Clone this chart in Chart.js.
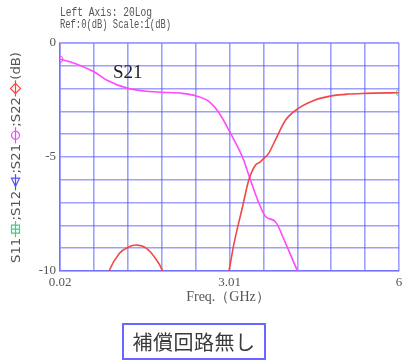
<!DOCTYPE html>
<html>
<head>
<meta charset="utf-8">
<script src="https://cdn.jsdelivr.net/npm/chart.js@4"></script>
<style>
    html, body { margin: 0; padding: 0; background: #fff; }
    #wrap { position: relative; width: 404px; height: 362px; }
    #caption {
        position: absolute; left: 122px; top: 323px; width: 140px; height: 33px;
        border: 2px solid #6868ff; font: 20px "Noto Sans CJK JP", sans-serif; color: #3a3a3a;
        text-align: center; line-height: 33px; letter-spacing: 0.5px;
    }
</style>
</head>
<body>
<div id="wrap">
    <canvas id="chart" width="404" height="362"></canvas>
    <div id="caption">補償回路無し</div>
</div>
<script>
(function () {
    "use strict";

    // S21 (magenta), dB vs GHz
    const s21Freq = [0.02, 0.195, 0.43, 0.62, 0.84, 1.22, 1.6, 1.82, 2.18, 2.42, 2.65, 2.83, 3.02, 3.18, 3.26, 3.35, 3.53, 3.65, 3.82, 4.0, 4.21, 4.4];
    const s21Db = [-0.71, -0.82, -1.04, -1.26, -1.62, -1.99, -2.13, -2.16, -2.21, -2.32, -2.57, -3.08, -3.92, -4.69, -5.13, -5.79, -7.03, -7.62, -7.84, -8.79, -10.0, -11.0];

    // S22 (red)
    const s22Freq = [0.02, 0.7, 0.885, 1.07, 1.22, 1.36, 1.54, 1.68, 1.83, 2.0, 2.6, 2.9, 3.0, 3.09, 3.24, 3.35, 3.47, 3.55, 3.6, 3.7, 3.82, 4.0, 4.23, 4.52, 4.81, 5.11, 5.4, 6.0];
    const s22Db = [-14, -11.5, -10.0, -9.22, -8.96, -8.86, -9.0, -9.37, -10.0, -11.5, -12.0, -11.0, -10.0, -8.79, -7.18, -6.01, -5.35, -5.22, -5.1, -4.84, -4.25, -3.38, -2.86, -2.5, -2.32, -2.24, -2.21, -2.18];

    // S11 sits on the 0 dB line
    const s11Freq = [0.02, 6.0];
    const s11Db = [0, 0];

    const yLabels = { "0": "0", "-5": "-5", "-10": "-10" };
    const xTickLabels = ["0.02", "", "", "", "", "3.01", "", "", "", "", "6"];
    const xMin = 0.02, xMax = 6.0, xDivisions = 10;

    const gridColor = "rgba(80, 80, 255, 0.55)";
    const textGray = "#555";

    const pts = (xs, ys) => xs.map((x, i) => ({ x, y: ys[i] }));

    function drawMarker(ctx, kind, cx, cy, color) {
        ctx.save();
        ctx.strokeStyle = color;
        ctx.lineWidth = 1.2;
        ctx.beginPath();
        ctx.moveTo(cx - 8, cy);
        ctx.lineTo(cx + 8, cy);
        ctx.stroke();
        ctx.beginPath();
        if (kind === "square") {
            ctx.rect(cx - 4, cy - 4, 8, 8);
            ctx.moveTo(cx, cy - 4); ctx.lineTo(cx, cy + 4);
        } else if (kind === "triangle") {
            ctx.moveTo(cx + 4, cy - 4); ctx.lineTo(cx + 4, cy + 4); ctx.lineTo(cx - 4, cy); ctx.closePath();
        } else if (kind === "circle") {
            ctx.arc(cx, cy, 4, 0, Math.PI * 2);
        } else {
            ctx.moveTo(cx - 5, cy); ctx.lineTo(cx, cy - 5); ctx.lineTo(cx + 5, cy); ctx.lineTo(cx, cy + 5); ctx.closePath();
        }
        ctx.stroke();
        ctx.restore();
    }

    const decor = {
        id: "decor",
        afterDraw(chart) {
            const ctx = chart.ctx;
            ctx.save();
            ctx.fillStyle = textGray;
            ctx.textBaseline = "alphabetic";
            ctx.textAlign = "left";
            ctx.font = "12px 'Liberation Mono', monospace";
            ctx.fillText("Left Axis: 20Log", 60, 16, 92);
            ctx.fillText("Ref:0(dB) Scale:1(dB)", 60, 28, 111);

            ctx.font = "14px 'Liberation Serif', serif";
            ctx.textAlign = "center";
            ctx.fillText("Freq.（GHz）", 228, 301, 84);

            ctx.fillStyle = "#222";
            ctx.textAlign = "left";
            ctx.font = "19px 'Liberation Serif', serif";
            ctx.fillText("S21", 113, 78);

            // rotated y title with series markers
            const parts = [
                { t: "S11" }, { m: "square", c: "#40d080" },
                { t: ";S12" }, { m: "triangle", c: "#5050ff" },
                { t: ";S21" }, { m: "circle", c: "#ff40ff" },
                { t: ";S22" }, { m: "diamond", c: "#ff4040" },
                { t: "(dB)" }
            ];
            ctx.font = "13px 'DejaVu Sans', sans-serif";
            const mw = 17;
            let total = 0;
            parts.forEach((p) => { p.w = p.t ? ctx.measureText(p.t).width : mw; total += p.w; });
            const k = 211 / total;
            ctx.translate(20, 263);
            ctx.rotate(-Math.PI / 2);
            ctx.scale(k, 1);
            let pos = 0;
            parts.forEach((p) => {
                if (p.t) {
                    ctx.fillStyle = textGray;
                    ctx.fillText(p.t, pos, 0);
                } else {
                    drawMarker(ctx, p.m, pos + p.w / 2, -4.5, p.c);
                }
                pos += p.w;
            });
            ctx.restore();
        }
    };

    new Chart(document.getElementById("chart"), {
        type: "line",
        data: {
            datasets: [
                { label: "S11", data: pts(s11Freq, s11Db), borderColor: "rgba(255, 110, 110, 0.75)", borderWidth: 1.5, pointRadius: 0 },
                { label: "S22", data: pts(s22Freq, s22Db), borderColor: "#f04848", borderWidth: 1.6, cubicInterpolationMode: "monotone",
                  pointRadius: s22Freq.map((_, i) => (i === s22Freq.length - 1 ? 3 : 0)), pointBorderColor: "#60c890", pointBackgroundColor: "rgba(0,0,0,0)", pointBorderWidth: 1 },
                { label: "S21", data: pts(s21Freq, s21Db), borderColor: "#ff48ff", borderWidth: 1.6, cubicInterpolationMode: "monotone",
                  pointRadius: s21Freq.map((_, i) => (i === 0 ? 3 : 0)), pointBorderColor: "#ff48ff", pointBackgroundColor: "rgba(0,0,0,0)", pointBorderWidth: 1 }
            ]
        },
        options: {
            responsive: false,
            animation: false,
            devicePixelRatio: 1,
            layout: { padding: { top: 43, right: 3, left: 0, bottom: 0 } },
            plugins: { legend: { display: false }, tooltip: { enabled: false } },
            scales: {
                x: {
                    type: "linear", min: xMin, max: xMax,
                    afterBuildTicks: (scale) => {
                        const step = (xMax - xMin) / xDivisions;
                        scale.ticks = xTickLabels.map((_, i) => ({ value: xMin + i * step }));
                    },
                    afterFit: (scale) => { scale.height = 91; scale.paddingLeft = 0; scale.paddingRight = 0; },
                    grid: { color: gridColor, lineWidth: 1.6, drawTicks: false },
                    border: { color: gridColor, width: 1.6 },
                    ticks: {
                        autoSkip: false, maxRotation: 0, padding: 4, color: textGray,
                        font: { family: "'Liberation Serif', serif", size: 13 },
                        callback: (v, i) => xTickLabels[i]
                    }
                },
                y: {
                    min: -10, max: 0,
                    afterFit: (scale) => { scale.width = 60; scale.paddingTop = 0; scale.paddingBottom = 0; },
                    grid: { color: gridColor, lineWidth: 1.6, drawTicks: false },
                    border: { color: gridColor, width: 1.6 },
                    ticks: {
                        stepSize: 1, autoSkip: false, padding: 4, color: textGray,
                        font: { family: "'Liberation Serif', serif", size: 13 },
                        callback: (v) => yLabels[String(v)] || ""
                    }
                }
            }
        },
        plugins: [decor]
    });
})();
</script>
</body>
</html>
